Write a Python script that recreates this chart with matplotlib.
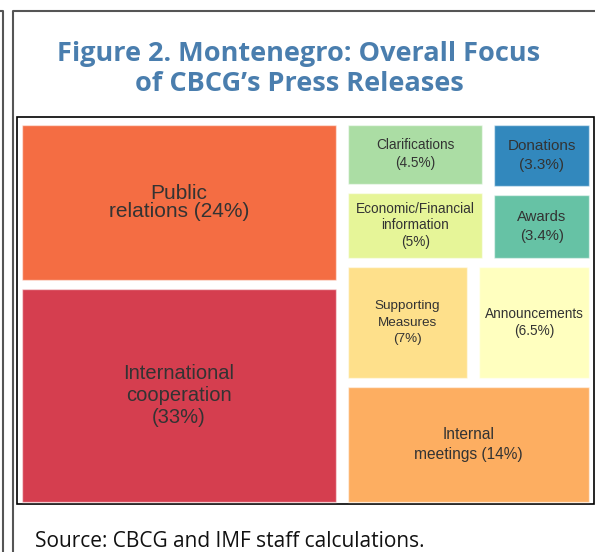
import matplotlib
matplotlib.use('Agg')
import matplotlib.pyplot as plt
from matplotlib.patches import Rectangle

# treemap data, biggest first (colours follow Spectral in that order)
labels = ['International\ncooperation\n(33%)', 'Public\nrelations (24%)',
          'Internal\nmeetings (14%)', 'Supporting\nMeasures\n(7%)',
          'Announcements\n(6.5%)', 'Economic/Financial\ninformation\n(5%)',
          'Clarifications\n(4.5%)', 'Awards\n(3.4%)', 'Donations\n(3.3%)']
values = [33, 24, 14, 7, 6.5, 5, 4.5, 3.4, 3.3]
colors = ['#d53e4f', '#f46d43', '#fdae61', '#fee08b', '#ffffbf',
          '#e6f598', '#abdda4', '#66c2a5', '#3288bd']

# nesting of the tiles: 'h' = side by side, 'v' = stacked top to bottom
tree = ('h', [('v', [1, 0]),
              ('v', [('h', [('v', [6, 5]), ('v', [8, 7])]),
                     ('h', [3, 4]),
                     2])])

# label styling per tile
fsize = [14.5, 15, 11.2, 9.7, 9.8, 9.8, 9.8, 10.7, 11]
lspace = [1.22, 0.92, 1.42, 1.46, 1.2, 1.25, 1.38, 1.52, 1.49]

GAP_X, GAP_Y = 12, 9


def total(node):
    if isinstance(node, int):
        return values[node]
    return sum(total(k) for k in node[1])


def layout(node, x, y, w, h, out):
    if isinstance(node, int):
        out[node] = (x, y, w, h)
        return
    d, kids = node
    gap = GAP_X if d == 'h' else GAP_Y
    span = (w if d == 'h' else h) - gap * (len(kids) - 1)
    s = total(node)
    pos = x if d == 'h' else y
    for k in kids:
        size = span * total(k) / s
        if d == 'h':
            layout(k, pos, y, size, h, out)
        else:
            layout(k, x, pos, w, size, out)
        pos += size + gap


fig = plt.figure(figsize=(5.95, 5.52), dpi=100)
ax = fig.add_axes([0, 0, 1, 1])
ax.set_xlim(0, 595)
ax.set_ylim(552, 0)
ax.axis('off')

# panel frame lines
frame = '#555555'
ax.plot([0, 2.5, 2.5], [10.5, 10.5, 552], color=frame, lw=1.5)
ax.plot([12.5, 12.5, 595], [552, 10.5, 10.5], color=frame, lw=1.5)

# title + source
ax.text(299, 91, 'Figure 2. Montenegro: Overall Focus\nof CBCG\u2019s Press Releases',
        ha='center', va='baseline', fontsize=19.5, fontweight='bold',
        family='Open Sans', color='#4a7eae', linespacing=1.22)
ax.text(35, 547, 'Source: CBCG and IMF staff calculations.', ha='left',
        va='baseline', fontsize=15, family='Open Sans', color='#111111')

# chart box
ax.add_patch(Rectangle((16.5, 117), 577, 387, fill=False, ec='black', lw=1.2))

rects = {}
layout(tree, 22, 125, 567, 377, rects)
for i, (x, y, w, h) in rects.items():
    ax.add_patch(Rectangle((x, y), w, h, fc=colors[i], ec=(1, 1, 1, 0.5), lw=1))
    ax.text(x + w / 2, y + h / 2, labels[i], ha='center', va='center',
            fontsize=fsize[i], family='Liberation Sans', color='#333333',
            linespacing=lspace[i])

plt.savefig('out.png', dpi=100)
plt.close()
